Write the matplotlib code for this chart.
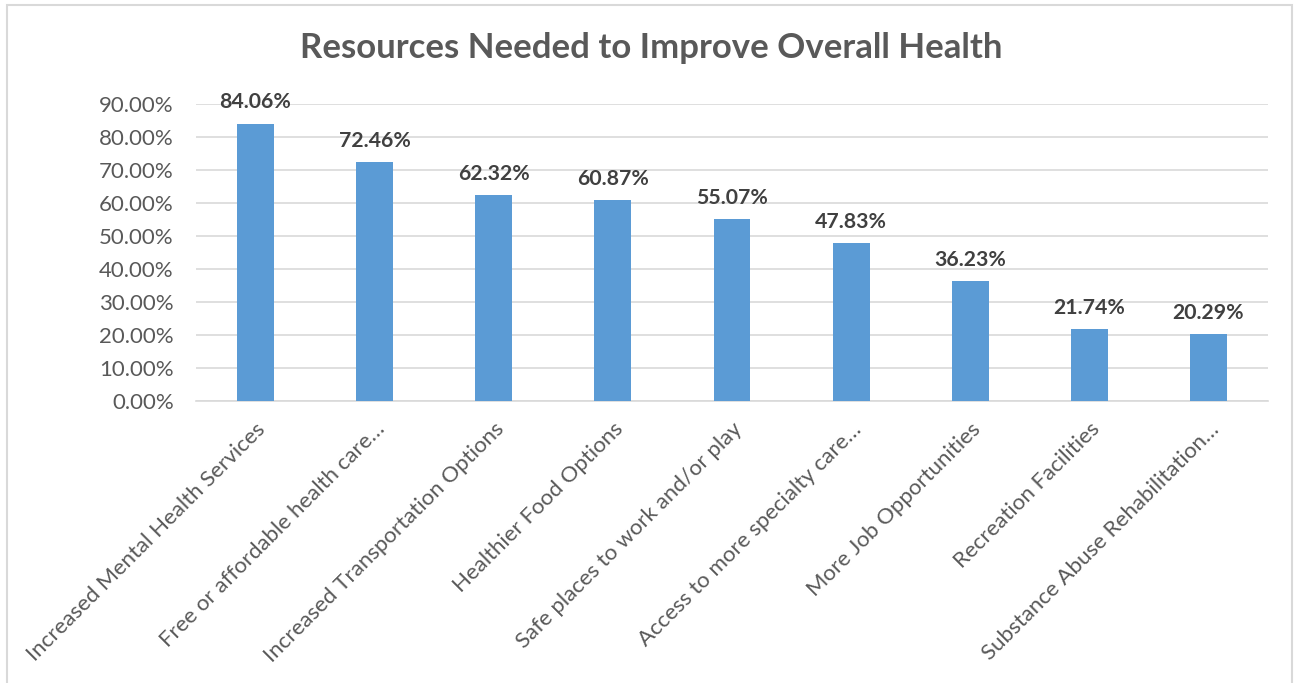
import matplotlib.pyplot as plt
from matplotlib.patches import Rectangle
from matplotlib.ticker import FuncFormatter, MultipleLocator

categories = [
    "Increased Mental Health Services",
    "Free or affordable health care\u2026",
    "Increased Transportation Options",
    "Healthier Food Options",
    "Safe places to work and/or play",
    "Access to more specialty care\u2026",
    "More Job Opportunities",
    "Recreation Facilities",
    "Substance Abuse Rehabilitation\u2026",
]
values = [84.06, 72.46, 62.32, 60.87, 55.07, 47.83, 36.23, 21.74, 20.29]

plt.rcParams['font.family'] = ['Lato', 'DejaVu Sans']

fig = plt.figure(figsize=(12.97, 6.83), dpi=100)
ax = fig.add_axes([196 / 1297, 1 - 401 / 683, 1072 / 1297, 297 / 683])

x = range(len(categories))
bars = ax.bar(x, values, width=0.31, color='#5B9BD5', zorder=3)

for xi, v in zip(x, values):
    ax.annotate(f"{v:.2f}%", (xi, v), xytext=(0, 8), textcoords='offset points',
                ha='center', va='bottom', fontsize=15.3, fontweight='bold',
                color='#404040', zorder=4)

ax.set_xlim(-0.5, len(categories) - 0.5)
ax.set_ylim(0, 90)
ax.yaxis.set_major_locator(MultipleLocator(10))
ax.yaxis.set_major_formatter(FuncFormatter(lambda v, p: f"{v:.2f}%"))
ax.grid(axis='y', color='#D9D9D9', linewidth=1.2, zorder=0)

ax.set_xticks(list(x))
ax.set_xticklabels(categories, rotation=45, ha='right', va='top',
                   rotation_mode='anchor', fontsize=16, color='#595959')
ax.tick_params(axis='x', length=0, pad=13)
ax.tick_params(axis='y', length=0, pad=16, labelsize=16, labelcolor='#595959')

for side in ['top', 'right', 'left']:
    ax.spines[side].set_visible(False)
ax.spines['bottom'].set_color('#D9D9D9')
ax.spines['bottom'].set_linewidth(1.2)

fig.text(651 / 1297, 1 - 48 / 683, "Resources Needed to Improve Overall Health",
         ha='center', va='center', fontsize=25, fontweight='bold', color='#595959')

# light frame around the chart area
fig.patches.append(Rectangle((7 / 1297, -0.05), 1285 / 1297, 1.05 - 5 / 683,
                             transform=fig.transFigure, fill=False,
                             edgecolor='#D9D9D9', linewidth=1.5))

fig.savefig('out.png', dpi=100)
